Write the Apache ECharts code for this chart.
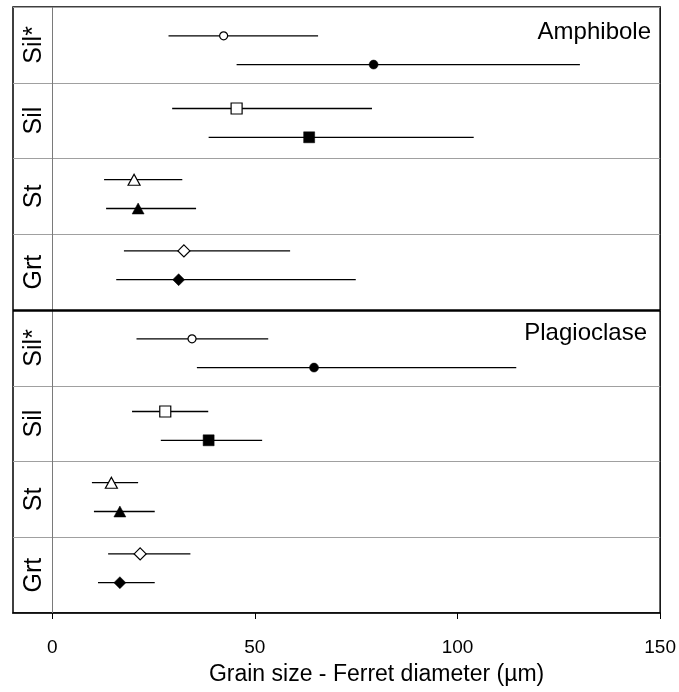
<!DOCTYPE html>
<html>
<head>
<meta charset="utf-8">
<script src="https://cdn.jsdelivr.net/npm/echarts@6/dist/echarts.min.js"></script>
<style>
html,body{margin:0;padding:0;background:#fff;}
#chart{width:679px;height:692px;}
</style>
</head>
<body>
<div id="chart"></div>
<script>
// ---- data ----
const rowLabels = ['Sil*', 'Sil', 'St', 'Grt'];
const panelNames = ['Amphibole', 'Plagioclase'];
const xTickValues = [0, 50, 100, 150];
const xTitle = 'Grain size - Ferret diameter (µm)';

// Amphibole, open symbols (upper point of each row)
const ampOpenMean  = [42.3, 45.5, 20.2, 32.5];
const ampOpenLow   = [28.7, 29.6, 12.8, 17.7];
const ampOpenHigh  = [65.6, 78.9, 32.1, 58.7];
// Amphibole, filled symbols (lower point of each row)
const ampFilledMean = [79.3, 63.4, 21.2, 31.2];
const ampFilledLow  = [45.5, 38.6, 13.3, 15.8];
const ampFilledHigh = [130.2, 104.0, 35.5, 74.9];
// Plagioclase, open symbols
const plgOpenMean  = [34.5, 27.9, 14.6, 21.7];
const plgOpenLow   = [20.8, 19.7, 9.8, 13.8];
const plgOpenHigh  = [53.3, 38.5, 21.2, 34.1];
// Plagioclase, filled symbols
const plgFilledMean = [64.6, 38.6, 16.7, 16.7];
const plgFilledLow  = [35.7, 26.8, 10.3, 11.3];
const plgFilledHigh = [114.5, 51.8, 25.3, 25.3];

// vertical positions (in row units) of the open / filled points inside a panel
const openRowPos   = [0.38, 1.34, 2.28, 3.22];
const filledRowPos = [0.76, 1.72, 2.66, 3.60];
const panelSpan = 4;

// ---- styling ----
const FONT = "'Liberation Sans', Arial, sans-serif";
const symbols = ['circle', 'rect', 'triangle', 'diamond'];
const openSizes = [[8, 8], [11, 11], [12, 11], [12, 12]];
const filledSizes = [[9, 9], [11, 11], [12, 11], [12, 12]];

// ---- build ----
const panels = [
  {open: [ampOpenMean, ampOpenLow, ampOpenHigh], filled: [ampFilledMean, ampFilledLow, ampFilledHigh]},
  {open: [plgOpenMean, plgOpenLow, plgOpenHigh], filled: [plgFilledMean, plgFilledLow, plgFilledHigh]}
];

const barData = [];
panels.forEach((p, pi) => {
  rowLabels.forEach((_, ri) => {
    barData.push([p.open[1][ri], p.open[2][ri], openRowPos[ri] + pi * panelSpan]);
    barData.push([p.filled[1][ri], p.filled[2][ri], filledRowPos[ri] + pi * panelSpan]);
  });
});

const series = [{
  type: 'custom',
  z: 2,
  silent: true,
  renderItem: function (params, api) {
    const a = api.coord([api.value(0), api.value(2)]);
    const b = api.coord([api.value(1), api.value(2)]);
    return {type: 'line', shape: {x1: a[0], y1: a[1], x2: b[0], y2: b[1]},
            style: {stroke: '#000', lineWidth: 1.3}};
  },
  encode: {x: [0, 1], y: 2},
  data: barData
}];

symbols.forEach((sym, ri) => {
  const openData = [], filledData = [];
  panels.forEach((p, pi) => {
    openData.push([p.open[0][ri], openRowPos[ri] + pi * panelSpan]);
    filledData.push([p.filled[0][ri], filledRowPos[ri] + pi * panelSpan]);
  });
  series.push({
    type: 'scatter', z: 3, symbol: sym, symbolSize: openSizes[ri],
    itemStyle: {color: '#fff', borderColor: '#000', borderWidth: 1.2, opacity: 1},
    data: openData
  });
  series.push({
    type: 'scatter', z: 3, symbol: sym, symbolSize: filledSizes[ri],
    itemStyle: {color: '#000', borderColor: '#000', borderWidth: 0.5, opacity: 1},
    data: filledData
  });
});

// reference lines: vertical zero line and thick panel divider
series.push({
  type: 'scatter', data: [], silent: true,
  markLine: {
    silent: true, symbol: 'none', animation: false,
    label: {show: false},
    data: [
      {xAxis: 0, lineStyle: {color: '#7a7a7a', width: 1, type: 'solid'}},
      {yAxis: panelSpan, lineStyle: {color: '#000', width: 2.6, type: 'solid'}}
    ]
  }
});

const catLabels = [];
panels.forEach(() => rowLabels.forEach(l => catLabels.push(l)));

const option = {
  animation: false,
  backgroundColor: '#fff',
  textStyle: {fontFamily: FONT},
  title: [
    {text: panelNames[0], right: 28, top: 20, padding: 0,
     textStyle: {fontFamily: FONT, fontSize: 24, fontWeight: 'normal', color: '#000'}},
    {text: panelNames[1], right: 32, top: 321, padding: 0,
     textStyle: {fontFamily: FONT, fontSize: 24, fontWeight: 'normal', color: '#000'}}
  ],
  grid: {left: 13, right: 17, top: 7, bottom: 79, show: true,
         borderColor: '#000', borderWidth: 1.5, backgroundColor: 'transparent'},
  xAxis: {
    type: 'value', min: -9.67, max: 150, position: 'bottom',
    axisLine: {show: true, onZero: false, lineStyle: {color: '#000', width: 1.5}},
    axisTick: {show: true, customValues: xTickValues, length: 6, inside: false,
               lineStyle: {color: '#000', width: 1}},
    axisLabel: {customValues: xTickValues, fontSize: 19, color: '#000', margin: 25, fontFamily: FONT},
    splitLine: {show: false},
    name: xTitle, nameLocation: 'middle', nameGap: 50,
    nameTextStyle: {fontSize: 23, color: '#000', fontFamily: FONT, padding: [0, 0, 0, 80]}
  },
  yAxis: [
    {type: 'value', min: 0, max: panelSpan * 2, interval: 1, inverse: true,
     axisLine: {show: false, onZero: false}, axisTick: {show: false}, axisLabel: {show: false},
     splitLine: {show: true, lineStyle: {color: '#a0a0a0', width: 1.2}}},
    {type: 'category', data: catLabels, inverse: true, position: 'left',
     axisLine: {show: false, onZero: false}, axisTick: {show: false}, splitLine: {show: false},
     axisLabel: {inside: true, rotate: 90, margin: 9, fontSize: 25, color: '#000', fontFamily: FONT}}
  ],
  series: series
};

const chart = echarts.init(document.getElementById('chart'), null, {renderer: 'canvas'});
chart.setOption(option);
</script>
</body>
</html>
